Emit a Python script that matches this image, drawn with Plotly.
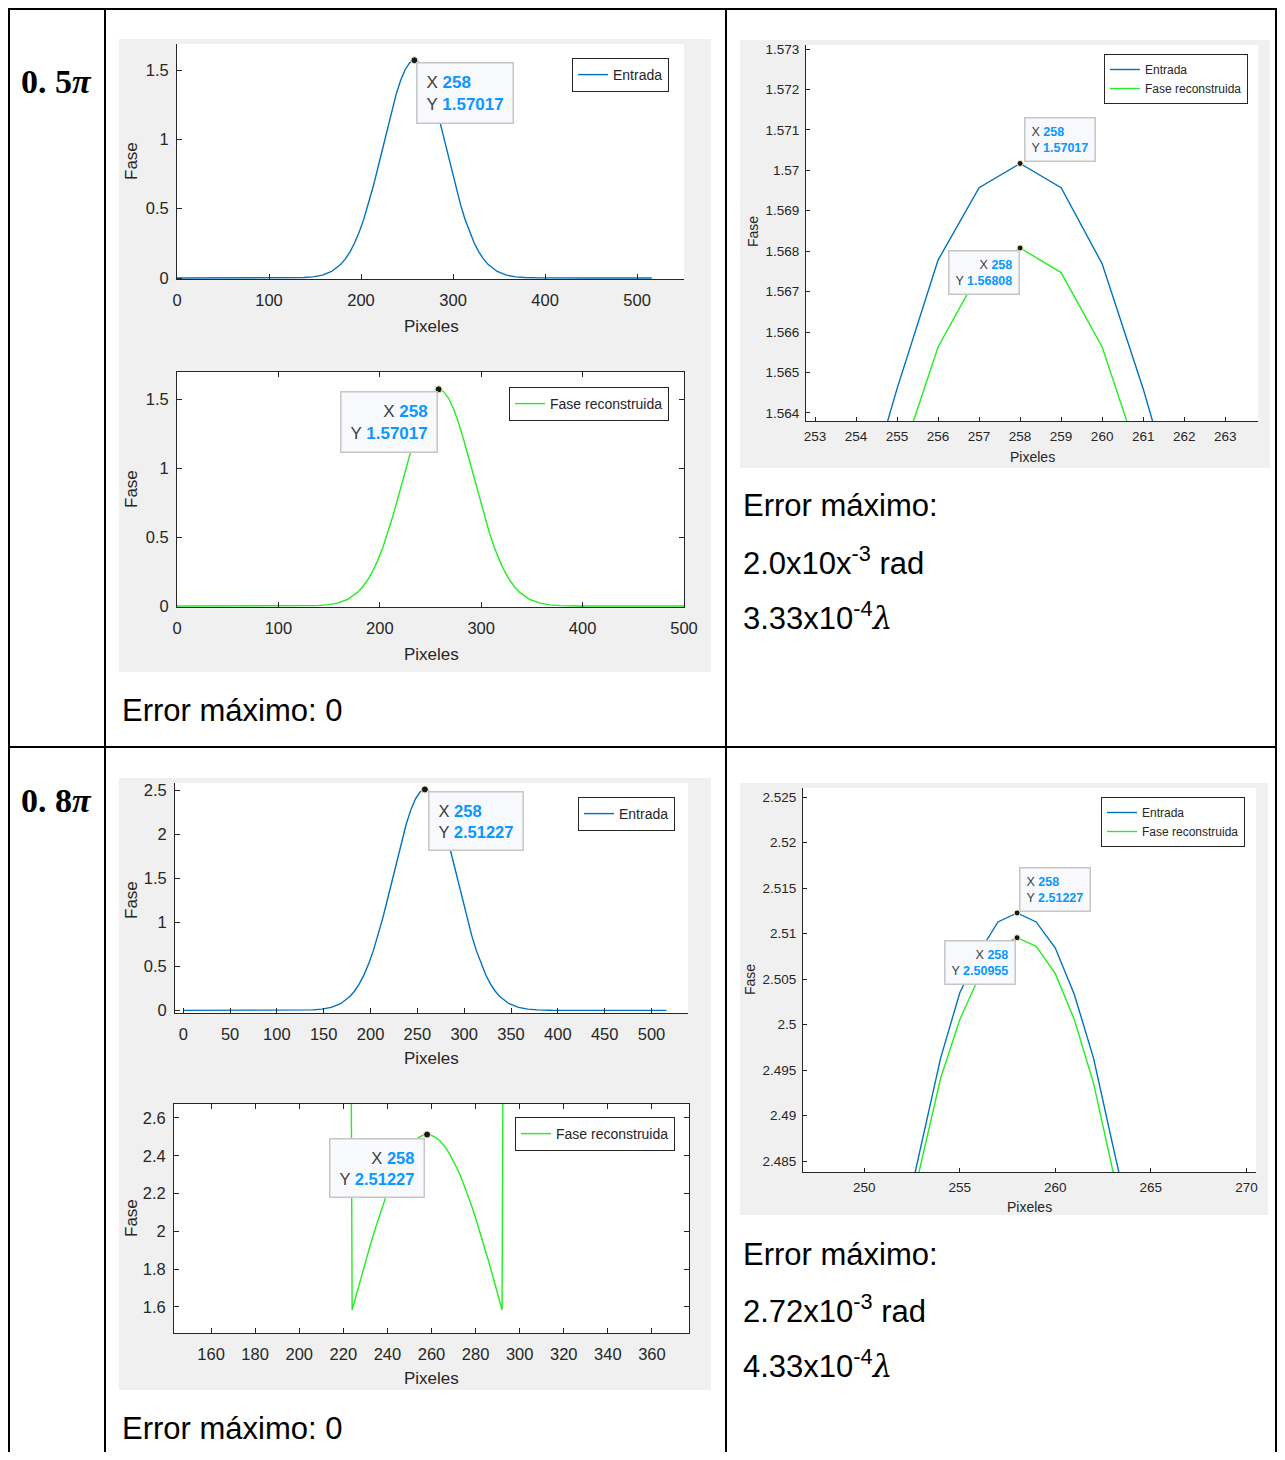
import plotly.graph_objects as go

# page is 1285x1460 with the browser's default 8px body margin, so the figure is
# sized to fit inside it and all reference coordinates are offset by 8px.
OX, OY = 8, 8
W, H = 1269, 1444
FONT = "Liberation Sans, Arial, Helvetica, sans-serif"
SERIF = "Liberation Serif, DejaVu Serif, serif"
BLUE = "#0072BD"
GREEN = "#22ee22"
TIPBLUE = "#0a97ff"
AX = "#262626"

# ---------------- data ----------------
# full phase profile, 0.5*pi (Entrada == Fase reconstruida, error 0)
fase_x = [0, 60, 123, 138, 148, 158, 168, 178, 183, 188, 193, 198, 203, 208, 213, 218,
          223, 228, 233, 238, 243, 248, 253, 258, 263, 268, 273, 278, 283, 288, 293, 298,
          303, 308, 313, 318, 323, 328, 333, 338, 348, 358, 368, 378, 393, 450, 516]
entrada_05 = [0.0, 0.0, 0.0006, 0.0031, 0.0084, 0.0208, 0.0473, 0.0986, 0.1378, 0.1886,
              0.2525, 0.3309, 0.4244, 0.5325, 0.6540, 0.7860, 0.9244, 1.0639, 1.1983,
              1.3208, 1.4246, 1.5038, 1.5533, 1.57017, 1.5533, 1.5038, 1.4246, 1.3208,
              1.1983, 1.0639, 0.9244, 0.7860, 0.6540, 0.5325, 0.4244, 0.3309, 0.2525,
              0.1886, 0.1378, 0.0986, 0.0473, 0.0208, 0.0084, 0.0031, 0.0006, 0.0, 0.0]
reconstruida_05 = [0.0, 0.0, 0.0006, 0.0031, 0.0084, 0.0208, 0.0473, 0.0986, 0.1378, 0.1886,
                   0.2525, 0.3309, 0.4244, 0.5325, 0.6540, 0.7860, 0.9244, 1.0639, 1.1983,
                   1.3208, 1.4246, 1.5038, 1.5533, 1.57017, 1.5533, 1.5038, 1.4246, 1.3208,
                   1.1983, 1.0639, 0.9244, 0.7860, 0.6540, 0.5325, 0.4244, 0.3309, 0.2525,
                   0.1886, 0.1378, 0.0986, 0.0473, 0.0208, 0.0084, 0.0031, 0.0006, 0.0, 0.0]
# full phase profile, 0.8*pi (Entrada)
entrada_08 = [0.0, 0.0, 0.0009, 0.0050, 0.0134, 0.0332, 0.0756, 0.1577, 0.2206, 0.3018,
              0.4040, 0.5294, 0.6790, 0.8521, 1.0464, 1.2575, 1.4790, 1.7022, 1.9172,
              2.1132, 2.2793, 2.4059, 2.4852, 2.51227, 2.4852, 2.4059, 2.2793, 2.1132,
              1.9172, 1.7022, 1.4790, 1.2575, 1.0464, 0.8521, 0.6790, 0.5294, 0.4040,
              0.3018, 0.2206, 0.1577, 0.0756, 0.0332, 0.0134, 0.0050, 0.0009, 0.0, 0.0]
# reconstructed (wrapped) phase 0.8*pi
wrap_x = [130, 150, 200, 223, 224, 226, 228, 230, 232, 234, 236, 238, 240, 242, 244, 246,
          248, 250, 252, 254, 256, 258, 260, 262, 264, 266, 268, 270, 272, 274, 276, 278,
          280, 282, 284, 286, 288, 290, 292, 293, 316, 366, 390]
wrap_08 = [3.145, 3.166, 3.798, 4.683, 1.5839, 1.6696, 1.7543, 1.8374, 1.9183, 1.9964,
           2.0710, 2.1416, 2.2076, 2.2683, 2.3233, 2.3720, 2.4140, 2.4489, 2.4764, 2.4963,
           2.5083, 2.51227, 2.5083, 2.4963, 2.4764, 2.4489, 2.4140, 2.3720, 2.3233, 2.2683,
           2.2076, 2.1416, 2.0710, 1.9964, 1.9183, 1.8374, 1.7543, 1.6696, 1.5839, 4.683,
           3.798, 3.166, 3.145]
# zoom around the peak
zoom_x = [252, 253, 254, 255, 256, 257, 258, 259, 260, 261, 262, 263, 264]
zoom_entrada_05 = [1.5519, 1.5569, 1.5611, 1.5646, 1.56778, 1.56957, 1.57017, 1.56957,
                   1.56769, 1.5646, 1.5611, 1.5569, 1.5519]
zoom_recon_05 = [1.5472, 1.5533, 1.5584, 1.56258, 1.56563, 1.56747, 1.56808, 1.56747,
                 1.56563, 1.56258, 1.5584, 1.5533, 1.5472]
zoom_entrada_08 = [2.4775, 2.4868, 2.49631, 2.50347, 2.50787, 2.51128, 2.51227, 2.51128,
                   2.50842, 2.50328, 2.49631, 2.4868, 2.4775]
zoom_recon_08 = [2.4755, 2.4850, 2.4941, 2.50053, 2.5052, 2.5086, 2.50955, 2.50861,
                 2.50560, 2.50053, 2.49356, 2.4842, 2.4745]

# data tips (x, y)
tip_x = 258
tip_y_05 = 1.57017
tip_y_05_rec = 1.56808
tip_y_08 = 2.51227
tip_y_08_rec = 2.50955

# ticks
xt_full05 = [0, 100, 200, 300, 400, 500]
yt_full05 = [0, 0.5, 1, 1.5]
yl_full05 = ["0", "0.5", "1", "1.5"]
xt_zoom05 = [253, 254, 255, 256, 257, 258, 259, 260, 261, 262, 263]
yt_zoom05 = [1.564, 1.565, 1.566, 1.567, 1.568, 1.569, 1.570, 1.571, 1.572, 1.573]
yl_zoom05 = ["1.564", "1.565", "1.566", "1.567", "1.568", "1.569", "1.57", "1.571", "1.572", "1.573"]
xt_full08 = [0, 50, 100, 150, 200, 250, 300, 350, 400, 450, 500]
yt_full08 = [0, 0.5, 1, 1.5, 2, 2.5]
yl_full08 = ["0", "0.5", "1", "1.5", "2", "2.5"]
xt_wrap08 = [160, 180, 200, 220, 240, 260, 280, 300, 320, 340, 360]
yt_wrap08 = [1.6, 1.8, 2.0, 2.2, 2.4, 2.6]
yl_wrap08 = ["1.6", "1.8", "2", "2.2", "2.4", "2.6"]
xt_zoom08 = [250, 255, 260, 265, 270]
yt_zoom08 = [2.485, 2.49, 2.495, 2.5, 2.505, 2.51, 2.515, 2.52, 2.525]
yl_zoom08 = ["2.485", "2.49", "2.495", "2.5", "2.505", "2.51", "2.515", "2.52", "2.525"]


# ---------------- helpers (page pixel -> paper) ----------------
def px(x):
    return (x - OX) / W


def py(y):
    return 1 - (y - OY) / H


fig = go.Figure()

panels = {
    1: dict(bx=(177, 684, 44, 279), xr=[0, 551], yr=[-0.0072, 1.6875], box=False, big=True,
            xt=xt_full05, yt=yt_full05, yl=yl_full05),
    2: dict(bx=(177, 684, 372, 607), xr=[0, 500], yr=[-0.007, 1.696], box=True, big=True,
            xt=xt_full05, yt=yt_full05, yl=yl_full05),
    3: dict(bx=(806, 1258, 45, 421), xr=[252.78, 263.8], yr=[1.5638, 1.5731], box=False, big=False,
            xt=xt_zoom05, yt=yt_zoom05, yl=yl_zoom05),
    4: dict(bx=(175, 688, 783, 1013), xr=[-8.8, 539], yr=[-0.03, 2.585], box=False, big=True,
            xt=xt_full08, yt=yt_full08, yl=yl_full08),
    5: dict(bx=(174, 689, 1104, 1333), xr=[143.2, 376.8], yr=[1.462, 2.674], box=True, big=True,
            xt=xt_wrap08, yt=yt_wrap08, yl=yl_wrap08),
    6: dict(bx=(803, 1256, 788, 1172), xr=[246.8, 270.5], yr=[2.4838, 2.526], box=False, big=False,
            xt=xt_zoom08, yt=yt_zoom08, yl=yl_zoom08),
}

layout = dict(
    width=W, height=H, autosize=False,
    margin=dict(l=0, r=0, t=0, b=0, pad=0, autoexpand=False),
    paper_bgcolor="white", plot_bgcolor="rgba(0,0,0,0)",
    font=dict(family=FONT, color=AX),
    showlegend=True,
    hovermode=False,
)

shapes = []
annotations = []

# gray figure panels
for (x0, x1, y0, y1) in [(119, 711, 39, 672), (740, 1270, 40, 468),
                         (119, 711, 778, 1390), (740, 1268, 783, 1215)]:
    shapes.append(dict(type="rect", xref="paper", yref="paper", x0=px(x0), x1=px(x1),
                       y0=py(y1), y1=py(y0), fillcolor="#f0f0f0", line=dict(width=0),
                       layer="below"))

for k, p in panels.items():
    s = "" if k == 1 else str(k)
    x0, x1, y0, y1 = p["bx"]
    fs = 16.5 if p["big"] else 13.5
    shapes.append(dict(type="rect", xref="paper", yref="paper", x0=px(x0), x1=px(x1),
                       y0=py(y1), y1=py(y0), fillcolor="white", line=dict(width=0),
                       layer="below"))
    mirror = "ticks" if p["box"] else False
    layout["xaxis" + s] = dict(
        domain=[px(x0), px(x1)], range=p["xr"], anchor="y" + s,
        showline=True, linecolor=AX, linewidth=1, mirror=mirror,
        ticks="inside", ticklen=5 if p["big"] else 4, tickcolor=AX, tickwidth=1,
        tickmode="array", tickvals=p["xt"], ticktext=[str(v) for v in p["xt"]],
        tickfont=dict(size=fs, color=AX, family=FONT),
        showgrid=False, zeroline=False, fixedrange=True,
        ticklabelstandoff=6 if p["big"] else 3,
    )
    layout["yaxis" + s] = dict(
        domain=[py(y1), py(y0)], range=p["yr"], anchor="x" + s,
        showline=True, linecolor=AX, linewidth=1, mirror=mirror,
        ticks="inside", ticklen=5 if p["big"] else 4, tickcolor=AX, tickwidth=1,
        tickmode="array", tickvals=p["yt"], ticktext=p["yl"],
        tickfont=dict(size=fs, color=AX, family=FONT),
        showgrid=False, zeroline=False, fixedrange=True,
        ticklabelstandoff=4 if p["big"] else 3,
    )


# ---------------- traces ----------------
def line(x, y, color, name, k, legend):
    s = "" if k == 1 else str(k)
    fig.add_trace(go.Scatter(x=x, y=y, mode="lines", name=name,
                             line=dict(color=color, width=1.4),
                             xaxis="x" + s, yaxis="y" + s, legend=legend))


line(fase_x, entrada_05, BLUE, "Entrada", 1, "legend")
line(fase_x, reconstruida_05, GREEN, "Fase reconstruida", 2, "legend2")
line(zoom_x, zoom_entrada_05, BLUE, "Entrada", 3, "legend3")
line(zoom_x, zoom_recon_05, GREEN, "Fase reconstruida", 3, "legend3")
line(fase_x, entrada_08, BLUE, "Entrada", 4, "legend4")
line(wrap_x, wrap_08, GREEN, "Fase reconstruida", 5, "legend5")
line(zoom_x, zoom_entrada_08, BLUE, "Entrada", 6, "legend6")
line(zoom_x, zoom_recon_08, GREEN, "Fase reconstruida", 6, "legend6")

# data tips: (panel, y, xanchor, yanchor, xshift, yshift, font, align)
tips = [
    (1, tip_y_05, "left", "top", 2, -2, 17, "left"),
    (2, tip_y_05, "right", "top", -1, -2, 17, "right"),
    (3, tip_y_05, "left", "bottom", 4, 1, 12.5, "left"),
    (3, tip_y_05_rec, "right", "top", 0, -2, 12.5, "right"),
    (4, tip_y_08, "left", "top", 3, -2, 16.5, "left"),
    (5, tip_y_08, "right", "top", -2, -3, 16.5, "right"),
    (6, tip_y_08, "left", "bottom", 2, 1, 12.5, "left"),
    (6, tip_y_08_rec, "right", "top", -1, -2, 12.5, "right"),
]
for (k, ty, xa, ya, xs, ys, tfs, al) in tips:
    s = "" if k == 1 else str(k)
    fig.add_trace(go.Scatter(x=[tip_x], y=[ty], mode="markers", showlegend=False,
                             marker=dict(size=7 if tfs > 14 else 6, color="#1a1a1a",
                                         line=dict(color="#f3efc2", width=1)),
                             cliponaxis=False, xaxis="x" + s, yaxis="y" + s))
    pad = 9 if tfs > 14 else 6
    txt = ("X <span style='color:%s'><b>%d</b></span><br>Y <span style='color:%s'><b>%s</b></span>"
           % (TIPBLUE, tip_x, TIPBLUE, f"{ty:g}"))
    annotations.append(dict(
        x=tip_x, y=ty, xref="x" + s, yref="y" + s, text=txt, showarrow=False,
        xanchor=xa, yanchor=ya, xshift=xs, yshift=ys, align=al, valign="middle",
        borderpad=pad, bgcolor="#f8f9fc", bordercolor="#c6c6c6", borderwidth=1.5,
        font=dict(size=tfs, color="#404040", family=FONT),
    ))

# legends
for name, (rx, ty, lfs) in {"legend": (669, 58, 14), "legend2": (669, 387, 14),
                            "legend3": (1248, 54, 12), "legend4": (675, 797, 14),
                            "legend5": (675, 1117, 14), "legend6": (1245, 797, 12)}.items():
    layout[name] = dict(x=px(rx), y=py(ty), xanchor="right", yanchor="top",
                        bgcolor="white", bordercolor=AX, borderwidth=1,
                        font=dict(size=lfs, color=AX, family=FONT),
                        tracegroupgap=0, itemwidth=30, itemclick=False)

# axis titles
for (t, x, y, fs, ang) in [
    ("Fase", 131, 161, 17, -90), ("Pixeles", 431, 326, 17, 0),
    ("Fase", 131, 489, 17, -90), ("Pixeles", 431, 654, 17, 0),
    ("Fase", 753, 232, 14, -90), ("Pixeles", 1032, 457, 14, 0),
    ("Fase", 131, 900, 17, -90), ("Pixeles", 431, 1058, 17, 0),
    ("Fase", 131, 1218, 17, -90), ("Pixeles", 431, 1378, 17, 0),
    ("Fase", 750, 980, 14, -90), ("Pixeles", 1029, 1207, 14, 0),
]:
    annotations.append(dict(x=px(x), y=py(y), xref="paper", yref="paper", text=t,
                            showarrow=False, textangle=ang, xanchor="center", yanchor="middle",
                            font=dict(size=fs, color=AX, family=FONT)))

# row labels
for (t, y) in [("0. 5", 82), ("0. 8", 800)]:
    annotations.append(dict(x=px(19), y=py(y), xref="paper", yref="paper",
                            text="<b>%s<i>π</i></b>" % t, showarrow=False,
                            xanchor="left", yanchor="middle",
                            font=dict(size=34, color="black", family=SERIF)))

# error texts
for (t, x, y) in [
    ("Error máximo: 0", 120, 710),
    ("Error máximo:", 741, 506),
    ("2.0x10x<sup>-3</sup> rad", 741, 561),
    ("3.33x10<sup>-4</sup><span style='font-family:DejaVu Serif'><i>λ</i></span>", 741, 616),
    ("Error máximo:", 741, 1254),
    ("2.72x10<sup>-3</sup> rad", 741, 1309),
    ("4.33x10<sup>-4</sup><span style='font-family:DejaVu Serif'><i>λ</i></span>", 741, 1364),
    ("Error máximo: 0", 120, 1428),
]:
    annotations.append(dict(x=px(x), y=py(y), xref="paper", yref="paper", text=t,
                            showarrow=False, xanchor="left", yanchor="middle",
                            font=dict(size=31, color="black", family=FONT)))

# table rules
lw = 2
for (x0, y0, x1, y1) in [(8, 9, 1277, 9), (8, 747, 1277, 747),
                         (9, 9, 9, 1452), (105, 9, 105, 1452),
                         (726, 9, 726, 1452), (1276, 9, 1276, 1452)]:
    shapes.append(dict(type="line", xref="paper", yref="paper", x0=px(x0), x1=px(x1),
                       y0=py(y0), y1=py(y1), line=dict(color="black", width=lw)))

layout["shapes"] = shapes
layout["annotations"] = annotations
fig.update_layout(**layout)

fig.write_html("out.html", config={"displayModeBar": False, "responsive": False})
